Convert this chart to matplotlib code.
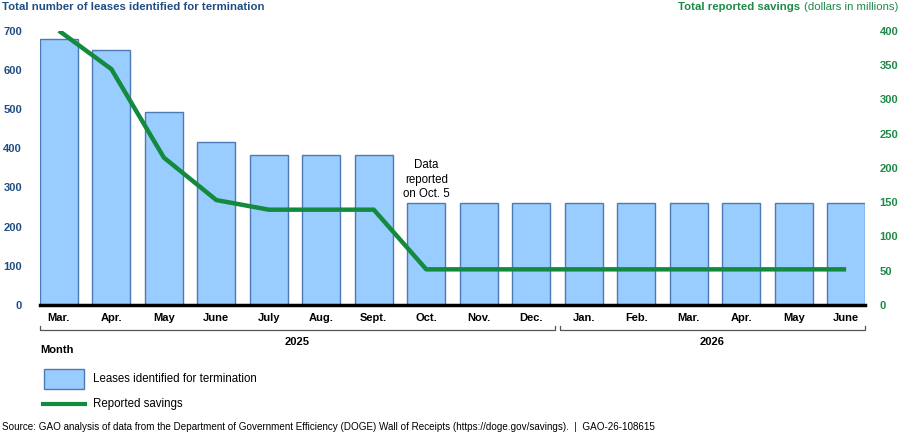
import matplotlib
matplotlib.use("Agg")
import matplotlib.pyplot as plt
from matplotlib.patches import Rectangle
from matplotlib.lines import Line2D
import matplotlib.transforms as mtransforms

plt.rcParams['font.family'] = ['Liberation Sans', 'DejaVu Sans']

# data
months = ["Mar.", "Apr.", "May", "June", "July", "Aug.", "Sept.", "Oct.",
          "Nov.", "Dec.", "Jan.", "Feb.", "Mar.", "Apr.", "May", "June"]
leases = [678, 651, 492, 415, 382, 382, 382, 261, 261, 261, 261, 261, 261, 261, 261, 261]
savings = [400, 344, 215, 153, 139, 139, 139, 52, 52, 52, 52, 52, 52, 52, 52, 52]
years = ["2025", "2026"]
year_spans = [(0, 9), (10, 15)]

blue_txt = "#1F4E82"
green_txt = "#1E8A48"
line_green = "#138A3E"
bar_face = "#99CCFF"
bar_edge = "#4D79B5"

W, H = 899, 434
fig = plt.figure(figsize=(W / 100, H / 100), dpi=100)
ax = fig.add_axes([40 / W, 1 - 305 / H, 825 / W, (305 - 30.7) / H])

x = list(range(len(months)))
ax.bar(x, leases, width=0.72, color=bar_face, edgecolor=bar_edge, linewidth=1.0, zorder=2)
ax.set_xlim(-0.36, len(months) - 1 + 0.36)
ax.set_ylim(0, 700)
ax.set_yticks(range(0, 701, 100))
ax.set_xticks(x)
ax.set_xticklabels(months, fontsize=8, fontweight='bold')
ax.tick_params(axis='x', length=0, pad=6)
ax.tick_params(axis='y', length=0, pad=13, labelsize=8, labelcolor=blue_txt)
for lab in ax.get_yticklabels():
    lab.set_fontweight('bold')
for s in ['top', 'right', 'left']:
    ax.spines[s].set_visible(False)
ax.spines['bottom'].set_linewidth(2.5)
ax.spines['bottom'].set_color('black')
ax.spines['bottom'].set_zorder(5)

ax2 = ax.twinx()
ax2.plot(x, savings, color=line_green, linewidth=3.2, zorder=4, solid_capstyle='butt')
ax2.set_ylim(0, 400)
ax2.set_yticks(range(0, 401, 50))
ax2.tick_params(axis='y', length=0, pad=10.5, labelsize=8, labelcolor=green_txt)
for lab in ax2.get_yticklabels():
    lab.set_fontweight('bold')
for s in ['top', 'right', 'left', 'bottom']:
    ax2.spines[s].set_visible(False)

# annotation above Oct.
ax.text(7, 268, "Data\nreported\non Oct. 5", ha='center', va='bottom', fontsize=8.3,
        linespacing=1.25, color='black')

# year brackets
trans = mtransforms.blended_transform_factory(ax.transData, fig.transFigure)
yb = 1 - 330 / H
yt = 1 - 326 / H
for (a, b), yr in zip(year_spans, years):
    x0 = a - 0.36 if a == 0 else a - 0.45
    x1 = b + 0.36 if b == len(months) - 1 else b + 0.45
    ax.add_line(Line2D([x0, x0, x1, x1], [yt, yb, yb, yt], transform=trans,
                       color='#555555', lw=0.9, clip_on=False))
    ax.text((x0 + x1) / 2, 1 - 342 / H, yr, transform=trans, ha='center', va='center',
            fontsize=8, fontweight='bold')

fig.text(40 / W, 1 - 350 / H, "Month", ha='left', va='center', fontsize=8, fontweight='bold')

# titles
fig.text(2 / W, 1 - 7 / H, "Total number of leases identified for termination",
         ha='left', va='center', fontsize=8.2, fontweight='bold', color=blue_txt)
t_norm = fig.text(898 / W, 1 - 7 / H, "(dollars in millions)", ha='right', va='center',
                  fontsize=8.2, color=green_txt)
renderer = fig.canvas.get_renderer()
bb = t_norm.get_window_extent(renderer=renderer)
fig.text((bb.x0 - 3) / W, 1 - 7 / H, "Total reported savings", ha='right', va='center',
         fontsize=8.2, fontweight='bold', color=green_txt)

# legend
fig.add_artist(Rectangle((44 / W, 1 - 389 / H), 40 / W, 20 / H, transform=fig.transFigure,
                         facecolor=bar_face, edgecolor=bar_edge, linewidth=1.0))
fig.text(93 / W, 1 - 379 / H, "Leases identified for termination", ha='left', va='center',
         fontsize=8.3)
fig.add_artist(Line2D([43 / W, 85 / W], [1 - 404 / H, 1 - 404 / H], transform=fig.transFigure,
                      color=line_green, lw=3))
fig.text(93 / W, 1 - 404 / H, "Reported savings", ha='left', va='center', fontsize=8.3)

fig.text(2 / W, 1 - 427 / H,
         "Source: GAO analysis of data from the Department of Government Efficiency (DOGE) "
         "Wall of Receipts (https://doge.gov/savings).  |  GAO-26-108615",
         ha='left', va='center', fontsize=7.1)

fig.savefig("out.png", dpi=100)
